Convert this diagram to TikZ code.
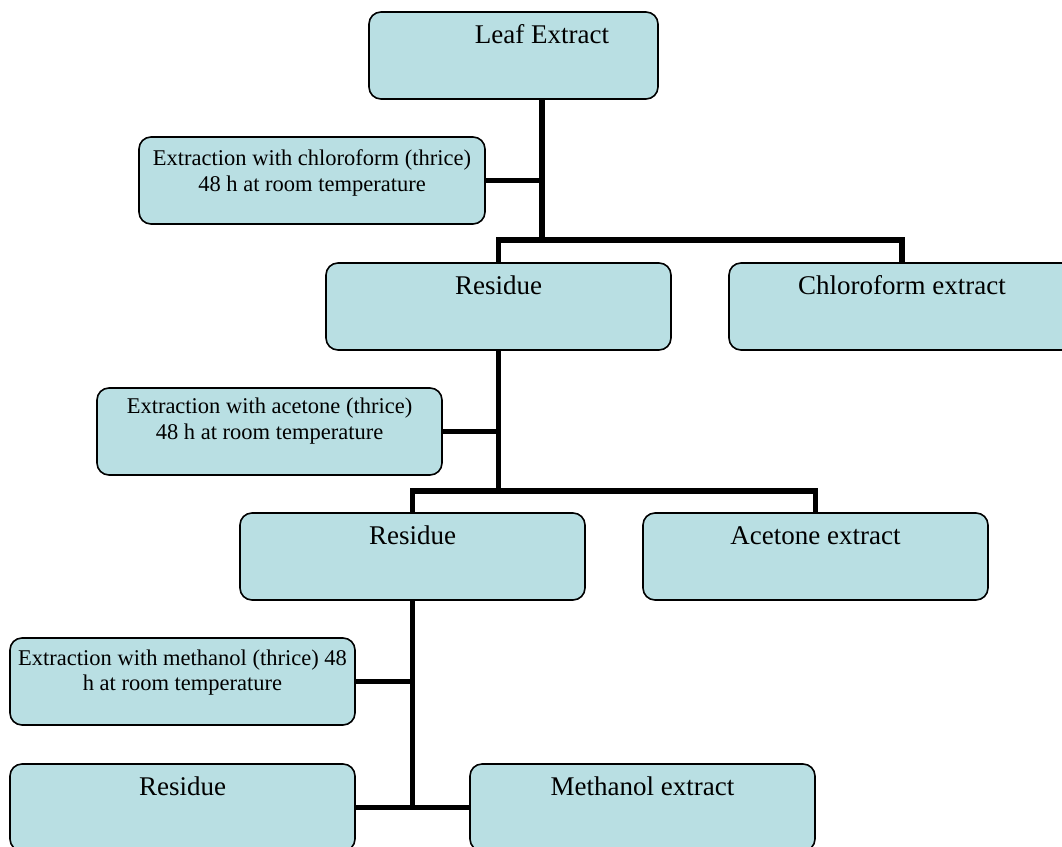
\documentclass[tikz,border=0pt]{standalone}
\usepackage{fontspec}
\setmainfont{Liberation Serif}
\definecolor{boxblue}{RGB}{185,223,227}
\tikzset{
  box/.style={draw=black, line width=1.6pt, fill=boxblue, rounded corners=12pt,
    inner sep=0pt, outer sep=0pt, minimum width=345pt, minimum height=87pt},
  big/.style={font=\fontsize{27}{32}\selectfont, inner sep=0pt, anchor=base},
  small/.style={font=\fontsize{22.5}{25.5}\selectfont, inner sep=0pt, anchor=base, align=center},
  link/.style={line width=5.5pt}
}
\begin{document}
\begin{tikzpicture}[x=1pt,y=-1pt]
\useasboundingbox (0,0) rectangle (1062,846);
\clip (0,0) rectangle (1062,846);
% boxes
\node[box, minimum width=289pt] (leaf) at (513.5,55.5) {};
\node[box, minimum width=346pt] (chlx) at (312,180.5) {};
\node[box] (res1) at (498.5,306.5) {};
\node[box, minimum width=346pt] (chlo) at (902,306.5) {};
\node[box] (acex) at (269.5,431.5) {};
\node[box] (res2) at (412.5,556.5) {};
\node[box] (acet) at (815.5,556.5) {};
\node[box] (metx) at (182.5,681.5) {};
\node[box] (res3) at (182.5,807.5) {};
\node[box] (meth) at (642.5,807.5) {};
% junctions
\coordinate (j1) at (542,240);
\coordinate (j2) at (498.5,491);
\coordinate (j3) at (412.5,808);
% connectors
\draw[link] (leaf.south -| j1) -- (j1);
\draw[link] (chlx.east) -- (chlx.east -| j1);
\draw[link] (res1.north) |- (j1) -| (chlo.north);
\draw[link] (res1.south) -- (j2);
\draw[link] (acex.east) -- (acex.east -| j2);
\draw[link] (res2.north) |- (j2) -| (acet.north);
\draw[link] (res2.south) -- (j3);
\draw[link] (metx.east) -- (metx.east -| j3);
\draw[link] (res3.east) -- (meth.west);
% texts
\node[big] (tleaf) at (542,43) {Leaf Extract};
\node[small] (tchlx) at (312,191) {Extraction with chloroform (thrice)\\48 h at room temperature};
\node[big] (tres1) at (498.5,294) {Residue};
\node[big] (tchlo) at (902,294) {Chloroform extract};
\node[small] (tacex) at (269.5,439) {Extraction with acetone (thrice)\\48 h at room temperature};
\node[big] (tres2) at (412.5,544) {Residue};
\node[big] (tacet) at (815.5,544) {Acetone extract};
\node[small] (tmetx) at (182.5,690.5) {Extraction with methanol (thrice) 48\\h at room temperature};
\node[big] (tres3) at (182.5,795) {Residue};
\node[big] (tmeth) at (642.5,795) {Methanol extract};
\end{tikzpicture}
\end{document}
